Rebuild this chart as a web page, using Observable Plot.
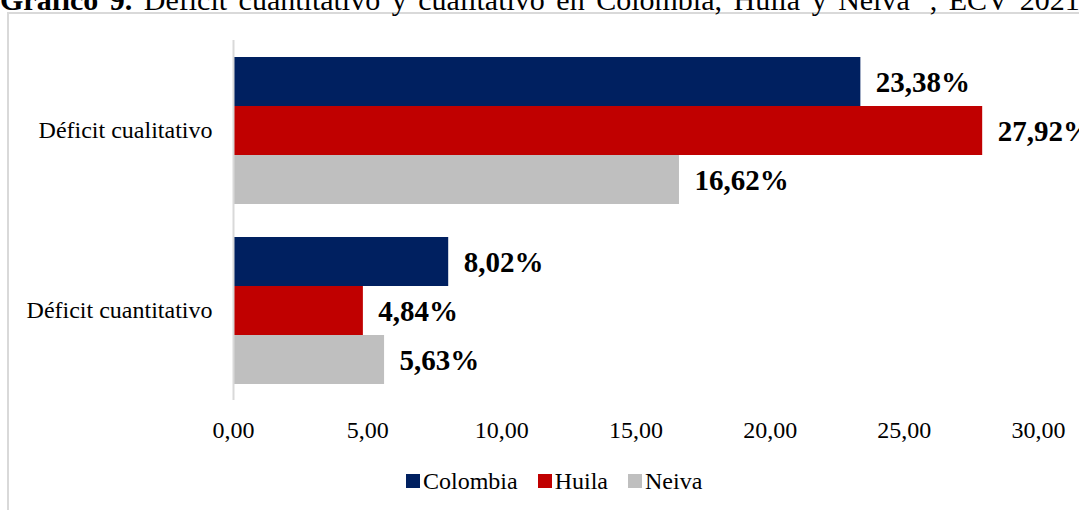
<!DOCTYPE html>
<html>
<head>
<meta charset="utf-8">
<script src="https://cdn.jsdelivr.net/npm/d3@7"></script>
<script src="https://cdn.jsdelivr.net/npm/@observablehq/plot@0.6"></script>
<style>
  html, body { margin: 0; padding: 0; background: #fff; }
  #wrap { position: relative; width: 1079px; height: 510px; overflow: hidden; font-family: "Liberation Serif", "Times New Roman", serif; color: #000; }
  #title { position: absolute; left: 0; top: -18px; white-space: nowrap; font-size: 30px; line-height: 1; word-spacing: 4px; }
  #frame { position: absolute; left: 7px; top: 12px; width: 1200px; height: 600px; border: 2px solid #d9d9d9; box-sizing: border-box; }
  #chart { position: absolute; left: 0; top: 0; }
  #legend { position: absolute; left: 406px; top: 469px; display: flex; align-items: center; font-size: 24px; line-height: 1; }
  #legend .item { display: flex; align-items: center; margin-right: 20px; }
  #legend .sw { width: 14px; height: 14px; margin-right: 3px; }
</style>
</head>
<body>
<div id="wrap">
  <div id="frame"></div>
  <div id="title"><b>Gráfico 9.</b> Déficit cuantitativo y cualitativo en Colombia, Huila y Neiva<sup style="font-size:20px">15</sup>, ECV 2021</div>
  <div id="chart"></div>
  <div id="legend"></div>
</div>
<script>
const categories = ["Déficit cualitativo", "Déficit cuantitativo"];
const series = ["Colombia", "Huila", "Neiva"];
const colors = ["#002060", "#C00000", "#BFBFBF"];
const colombia = [23.38, 8.02];
const huila = [27.92, 4.84];
const neiva = [16.62, 5.63];
const xTicks = [0, 5, 10, 15, 20, 25, 30];

const seriesValues = [colombia, huila, neiva];
const data = [];
categories.forEach((c, i) => {
  series.forEach((s, j) => {
    data.push({category: c, series: s, value: seriesValues[j][i]});
  });
});

const fmt = v => v.toFixed(2).replace(".", ",");

const chart = Plot.plot({
  width: 1079,
  height: 445,
  marginLeft: 233,
  marginRight: 41,
  marginTop: 39,
  marginBottom: 45,
  style: {fontFamily: "'Liberation Serif', 'Times New Roman', serif", fontSize: "24px", color: "#000", background: "transparent", overflow: "visible"},
  x: {domain: [0, 30], ticks: xTicks, tickFormat: fmt, tickSize: 0, tickPadding: 20, label: null},
  y: {domain: series, paddingInner: 0, paddingOuter: 0.335, axis: null},
  fy: {domain: categories, padding: 0, axis: "left", label: null, tickSize: 0, tickPadding: 21},
  color: {domain: series, range: colors},
  marks: [
    Plot.barX(data, {fy: "category", y: "series", x: "value", fill: "series"}),
    Plot.ruleX([0], {stroke: "#d9d9d9", strokeWidth: 2}),
    Plot.text(data, {fy: "category", y: "series", x: "value", text: d => fmt(d.value) + "%", dx: 15, dy: 1, textAnchor: "start", fontWeight: "bold", fontSize: 29, fill: "#000"})
  ]
});
document.getElementById("chart").appendChild(chart);

const legend = document.getElementById("legend");
series.forEach((s, i) => {
  const item = document.createElement("div");
  item.className = "item";
  const sw = document.createElement("div");
  sw.className = "sw";
  sw.style.background = colors[i];
  const t = document.createElement("span");
  t.textContent = s;
  item.appendChild(sw);
  item.appendChild(t);
  legend.appendChild(item);
});
</script>
</body>
</html>
